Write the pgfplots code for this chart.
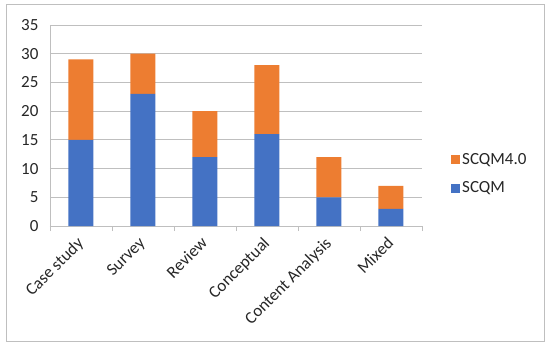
\documentclass[border=0pt]{standalone}
\usepackage{pgfplots}
\pgfplotsset{compat=1.18}
\usepackage{fontspec}
\setmainfont{Carlito}
\definecolor{cblue}{HTML}{4472C4}
\definecolor{corange}{HTML}{ED7D31}
\definecolor{gridc}{HTML}{BFBFBF}
\begin{document}
\begin{tikzpicture}
\path (-50pt,-125pt) rectangle (500pt,226pt);
\draw[gridc, line width=1pt] (-43pt,-116pt) rectangle (494pt,221pt);
\begin{axis}[
  at={(0pt,0pt)}, anchor=south west,
  scale only axis, width=372pt, height=201pt,
  ybar stacked, bar width=25pt,
  xmin=-0.5, xmax=5.5, ymin=0, ymax=35,
  ytick={0,5,...,35},
  xtick={0,...,5},
  xticklabels={Case study,Survey,Review,Conceptual,Content Analysis,Mixed},
  minor xtick={-0.5,0.5,...,5.5},
  major tick length=0pt, minor tick length=5pt,
  tick align=outside,
  tick style={gridc, line width=0.8pt},
  axis x line*=bottom, axis y line*=left,
  axis line style={gridc, line width=0.8pt, -},
  ymajorgrids, grid style={gridc, line width=0.8pt},
  /pgf/number format/assume math mode=true,
  ticklabel style={font=\fontsize{17}{20}\selectfont, text=black!85},
  yticklabel style={xshift=-8pt},
  xticklabel style={xshift=-5pt, yshift=-5pt, rotate=45, anchor=north east},
  legend style={draw=none, at={(1.07,0.26)}, anchor=west, font=\fontsize{17}{20}\selectfont, row sep=12pt, fill=none, text=black!85},
  reverse legend,
  legend image code/.code={\fill[#1] (0pt,-4.5pt) rectangle (9pt,4.5pt);},
  legend cell align=left,
]
\addplot[fill=cblue, draw=none] coordinates {(0,15) (1,23) (2,12) (3,16) (4,5) (5,3)};
\addplot[fill=corange, draw=none] coordinates {(0,14) (1,7) (2,8) (3,12) (4,7) (5,4)};
\legend{SCQM,SCQM4.0}
\end{axis}
\end{tikzpicture}
\end{document}
